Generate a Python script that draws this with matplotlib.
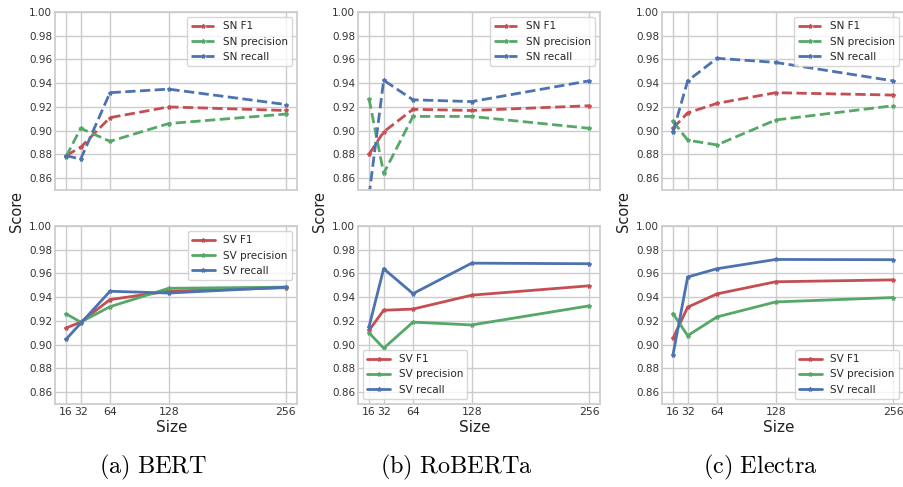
import matplotlib
matplotlib.use("Agg")
import matplotlib.pyplot as plt
import seaborn as sns

sns.set_theme(style="whitegrid")
plt.rcParams['mathtext.fontset'] = 'cm'

sizes = [16, 32, 64, 128, 256]
models = ["BERT", "RoBERTa", "Electra"]
captions = ["(a)\\ BERT", "(b)\\ RoBERTa", "(c)\\ Electra"]

# SN scores (top row)
sn_f1 = {
    "BERT":    [0.879, 0.886, 0.911, 0.920, 0.917],
    "RoBERTa": [0.880, 0.899, 0.918, 0.917, 0.921],
    "Electra": [0.902, 0.915, 0.923, 0.932, 0.930],
}
sn_prec = {
    "BERT":    [0.878, 0.902, 0.891, 0.906, 0.914],
    "RoBERTa": [0.927, 0.864, 0.912, 0.912, 0.902],
    "Electra": [0.908, 0.892, 0.888, 0.909, 0.921],
}
sn_rec = {
    "BERT":    [0.879, 0.876, 0.932, 0.935, 0.922],
    "RoBERTa": [0.845, 0.9425, 0.926, 0.9245, 0.942],
    "Electra": [0.899, 0.942, 0.961, 0.9575, 0.942],
}

# SV scores (bottom row)
sv_f1 = {
    "BERT":    [0.914, 0.919, 0.938, 0.945, 0.948],
    "RoBERTa": [0.912, 0.929, 0.930, 0.9417, 0.9496],
    "Electra": [0.9054, 0.9316, 0.9428, 0.953, 0.9546],
}
sv_prec = {
    "BERT":    [0.926, 0.919, 0.932, 0.9475, 0.9485],
    "RoBERTa": [0.910, 0.897, 0.919, 0.9166, 0.9327],
    "Electra": [0.9262, 0.9076, 0.9234, 0.936, 0.9397],
}
sv_rec = {
    "BERT":    [0.9045, 0.918, 0.945, 0.9435, 0.9485],
    "RoBERTa": [0.915, 0.964, 0.943, 0.9687, 0.9682],
    "Electra": [0.8915, 0.957, 0.964, 0.9718, 0.9716],
}

sv_legend_loc = {"BERT": "upper right", "RoBERTa": "lower left", "Electra": "lower right"}

red, green, blue = "#C44E52", "#55A868", "#4C72B0"

W, H = 904, 487
fig = plt.figure(figsize=(W / 100, H / 100), dpi=100)

lefts = [55, 358, 662]
aw, ah = 242, 178


def style_ax(ax, show_x):
    ax.set_xlim(4, 268)
    ax.set_ylim(0.85, 1.0)
    ax.set_xticks(sizes)
    ax.set_yticks([0.86, 0.88, 0.90, 0.92, 0.94, 0.96, 0.98, 1.00])
    ax.set_yticklabels(["%.2f" % v for v in ax.get_yticks()], fontsize=7.5, color="#333333")
    if show_x:
        ax.set_xticklabels([str(s) for s in sizes], fontsize=7.8, color="#333333")
    else:
        ax.set_xticklabels([])
    ax.tick_params(axis="both", pad=2, length=0)


for i, m in enumerate(models):
    x0 = lefts[i]
    ax1 = fig.add_axes([x0 / W, 1 - 190 / H, aw / W, ah / H])
    ax1.plot(sizes, sn_f1[m], "--", marker="*", markersize=3, lw=2, color=red, label="SN F1")
    ax1.plot(sizes, sn_prec[m], "--", marker="*", markersize=3, lw=2, color=green, label="SN precision")
    ax1.plot(sizes, sn_rec[m], "--", marker="*", markersize=3, lw=2, color=blue, label="SN recall")
    style_ax(ax1, False)
    ax1.legend(loc="upper right", fontsize=7.5, handlelength=2.2)

    ax2 = fig.add_axes([x0 / W, 1 - 404 / H, aw / W, ah / H])
    ax2.plot(sizes, sv_f1[m], "-", marker="*", markersize=3, lw=2, color=red, label="SV F1")
    ax2.plot(sizes, sv_prec[m], "-", marker="*", markersize=3, lw=2, color=green, label="SV precision")
    ax2.plot(sizes, sv_rec[m], "-", marker="*", markersize=3, lw=2, color=blue, label="SV recall")
    style_ax(ax2, True)
    ax2.legend(loc=sv_legend_loc[m], fontsize=7.5, handlelength=2.2)

    fig.text((x0 - 38) / W, 1 - 212 / H, "Score", rotation=90, ha="center", va="center",
             fontsize=10.5, color="#222222")
    fig.text((x0 + aw / 2 - 4) / W, 1 - 427 / H, "Size", ha="center", va="center",
             fontsize=11, color="#222222")
    fig.text((x0 + 98) / W, 1 - 467 / H, "$\\mathrm{" + captions[i] + "}$", ha="center",
             va="center", fontsize=17.5, color="black")

fig.savefig("out.png", dpi=100)
